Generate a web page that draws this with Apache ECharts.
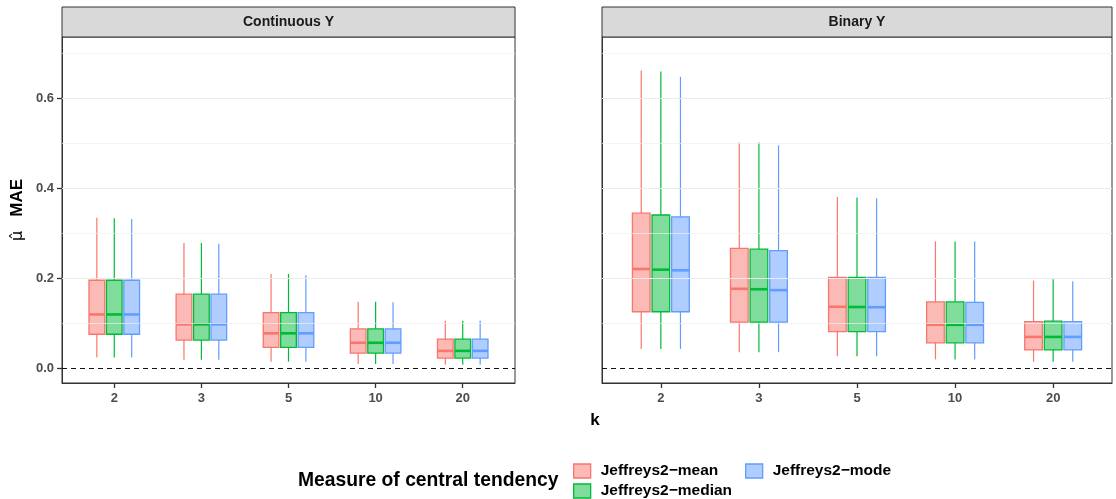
<!DOCTYPE html>
<html lang="en">
<head>
    <meta charset="UTF-8">
    <title>MAE by k</title>
    <script src="https://cdn.jsdelivr.net/npm/echarts/dist/echarts.min.js"></script>
    <style>
        body { margin: 0; padding: 0; background: #ffffff; }
        #chart { width: 1116px; height: 499px; }
    </style>
</head>
<body>
<div id="chart"></div>

<script>
// k values on the x axis
var kLabels = ['2', '3', '5', '10', '20'];
var facetNames = ['Continuous Y', 'Binary Y'];
var measureNames = ['Jeffreys2\u2212mean', 'Jeffreys2\u2212median', 'Jeffreys2\u2212mode'];

// box stats per k: [low whisker, q1, median, q3, high whisker]
var contMean = [[0.023, 0.075, 0.119, 0.195, 0.334], [0.018, 0.062, 0.097, 0.164, 0.278], [0.014, 0.046, 0.077, 0.123, 0.209], [0.009, 0.033, 0.056, 0.087, 0.147], [0.007, 0.022, 0.038, 0.064, 0.105]];
var contMedian = [[0.023, 0.075, 0.119, 0.195, 0.333], [0.018, 0.062, 0.097, 0.164, 0.278], [0.014, 0.046, 0.077, 0.123, 0.209], [0.009, 0.033, 0.056, 0.087, 0.147], [0.007, 0.022, 0.038, 0.064, 0.105]];
var contMode = [[0.023, 0.075, 0.119, 0.195, 0.331], [0.018, 0.062, 0.097, 0.164, 0.276], [0.014, 0.046, 0.077, 0.123, 0.206], [0.009, 0.033, 0.056, 0.087, 0.146], [0.007, 0.022, 0.038, 0.064, 0.105]];

var binMean = [[0.042, 0.125, 0.220, 0.344, 0.661], [0.035, 0.102, 0.176, 0.266, 0.501], [0.026, 0.081, 0.136, 0.2015, 0.380], [0.019, 0.056, 0.096, 0.147, 0.2815], [0.014, 0.040, 0.069, 0.103, 0.194]];
var binMedian = [[0.042, 0.125, 0.2185, 0.340, 0.659], [0.035, 0.102, 0.175, 0.264, 0.501], [0.026, 0.081, 0.1355, 0.2015, 0.379], [0.019, 0.056, 0.096, 0.147, 0.281], [0.014, 0.040, 0.069, 0.104, 0.197]];
var binMode = [[0.042, 0.125, 0.217, 0.336, 0.647], [0.035, 0.102, 0.173, 0.261, 0.495], [0.026, 0.081, 0.135, 0.2015, 0.377], [0.019, 0.056, 0.096, 0.146, 0.281], [0.014, 0.040, 0.069, 0.103, 0.193]];

var yTicks = [0, 0.2, 0.4, 0.6];
var majorGrid = [0.2, 0.4, 0.6];
var minorGrid = [0.1, 0.3, 0.5, 0.7];

var facetData = [[contMean, contMedian, contMode], [binMean, binMedian, binMode]];
var lineColors = ['#F8766D', '#00BA38', '#619CFF'];
var fillColors = ['rgba(248,118,109,0.5)', 'rgba(0,186,56,0.5)', 'rgba(97,156,255,0.5)'];
var dodge = [-0.2, 0, 0.2];
var boxWidth = 0.18;

var chart = echarts.init(document.getElementById('chart'));

function makeRender(m) {
    return function (params, api) {
        var x = api.value(0) + dodge[m];
        var lo = api.coord([x, api.value(1)]);
        var q1 = api.coord([x, api.value(2)]);
        var md = api.coord([x, api.value(3)]);
        var q3 = api.coord([x, api.value(4)]);
        var hi = api.coord([x, api.value(5)]);
        var half = api.size([boxWidth, 0])[0] / 2;
        var cx = lo[0];
        return {
            type: 'group',
            children: [
                { type: 'line', shape: { x1: cx, y1: hi[1], x2: cx, y2: q3[1] }, style: { stroke: lineColors[m], lineWidth: 1.2 } },
                { type: 'line', shape: { x1: cx, y1: q1[1], x2: cx, y2: lo[1] }, style: { stroke: lineColors[m], lineWidth: 1.2 } },
                { type: 'rect', shape: { x: cx - half, y: q3[1], width: half * 2, height: q1[1] - q3[1] }, style: { fill: fillColors[m], stroke: lineColors[m], lineWidth: 1.3 } },
                { type: 'line', shape: { x1: cx - half, y1: md[1], x2: cx + half, y2: md[1] }, style: { stroke: lineColors[m], lineWidth: 2.6 } }
            ]
        };
    };
}

var grids = [
    { left: 62, top: 37, width: 453, height: 346 },
    { left: 602, top: 37, width: 510, height: 346 }
];
var xAxes = [];
var yAxes = [];
var series = [];

grids.forEach(function (g, f) {
    g.show = true;
    g.borderColor = '#333333';
    g.borderWidth = 1;

    xAxes.push({
        type: 'value', gridIndex: f, min: 0.4, max: 5.6,
        axisLine: { show: true, onZero: false, lineStyle: { color: '#333333', width: 1 } },
        splitLine: { show: false },
        axisTick: { show: true, customValues: [1, 2, 3, 4, 5], length: 5, lineStyle: { color: '#333333', width: 1.3 } },
        axisLabel: {
            customValues: [1, 2, 3, 4, 5],
            formatter: function (v) { return kLabels[Math.round(v) - 1]; },
            color: '#4D4D4D', fontSize: 13, fontWeight: 'bold', fontFamily: 'Liberation Sans', margin: 9
        }
    });
    yAxes.push({
        type: 'value', gridIndex: f, min: -0.0334, max: 0.7356,
        axisLine: { show: true, onZero: false, lineStyle: { color: '#333333', width: 1 } },
        splitLine: { show: false },
        axisTick: { show: f === 0, customValues: yTicks, length: 5, lineStyle: { color: '#333333', width: 1.3 } },
        axisLabel: {
            show: f === 0,
            customValues: yTicks,
            formatter: function (v) { return v.toFixed(1); },
            color: '#4D4D4D', fontSize: 13, fontWeight: 'bold', fontFamily: 'Liberation Sans', margin: 8
        },
        name: f === 0 ? '{mu|\u03bc\u0302}   MAE' : '',
        nameLocation: 'middle', nameRotate: 90, nameGap: 36,
        nameTextStyle: {
            color: '#000000', fontSize: 17, fontWeight: 'bold', fontFamily: 'Liberation Sans',
            rich: { mu: { fontFamily: 'DejaVu Sans', fontSize: 16, fontWeight: 'normal', color: '#000000' } }
        }
    });

    // grid lines and the dashed zero line
    var lines = [];
    minorGrid.forEach(function (v) { lines.push({ yAxis: v, lineStyle: { color: '#EFEFEF', width: 0.7, type: 'solid' } }); });
    majorGrid.forEach(function (v) { lines.push({ yAxis: v, lineStyle: { color: '#EBEBEB', width: 1.2, type: 'solid' } }); });
    lines.push({ yAxis: 0, lineStyle: { color: '#111111', width: 1.2, type: [5, 4] } });
    series.push({
        type: 'line', xAxisIndex: f, yAxisIndex: f, data: [], z: 1,
        markLine: { silent: true, symbol: ['none', 'none'], label: { show: false }, animation: false, data: lines }
    });

    facetData[f].forEach(function (rows, m) {
        series.push({
            name: measureNames[m],
            type: 'custom', xAxisIndex: f, yAxisIndex: f, z: 2,
            itemStyle: { color: fillColors[m], borderColor: lineColors[m] },
            encode: { x: 0, y: [1, 2, 3, 4, 5] },
            renderItem: makeRender(m),
            data: rows.map(function (r, i) { return [i + 1].concat(r); })
        });
    });
});

function legendFor(m, left, top) {
    return {
        left: left, top: top, orient: 'horizontal', padding: 0,
        itemWidth: 17, itemHeight: 14,
        selectedMode: false,
        textStyle: { color: '#000000', fontSize: 15.5, fontWeight: 'bold', fontFamily: 'Liberation Sans', padding: [0, 0, 0, 5] },
        data: [{
            name: measureNames[m], icon: 'rect',
            itemStyle: { color: fillColors[m], borderColor: lineColors[m], borderWidth: 1.3 }
        }]
    };
}

var stripStyle = { fill: '#D9D9D9', stroke: '#333333', lineWidth: 1 };
var stripText = { fill: '#1A1A1A', fontSize: 14, fontWeight: 'bold', fontFamily: 'Liberation Sans', textAlign: 'center', textVerticalAlign: 'middle' };

var option = {
    animation: false,
    backgroundColor: '#ffffff',
    grid: grids,
    xAxis: xAxes,
    yAxis: yAxes,
    legend: [legendFor(0, 573, 463), legendFor(1, 573, 483), legendFor(2, 745, 463)],
    graphic: [
        { type: 'rect', shape: { x: 62, y: 7, width: 453, height: 30 }, style: stripStyle },
        { type: 'text', x: 288.5, y: 22, style: Object.assign({ text: facetNames[0] }, stripText) },
        { type: 'rect', shape: { x: 602, y: 7, width: 510, height: 30 }, style: stripStyle },
        { type: 'text', x: 857, y: 22, style: Object.assign({ text: facetNames[1] }, stripText) },
        { type: 'text', x: 595, y: 420, style: { text: 'k', fill: '#000000', fontSize: 17, fontWeight: 'bold', fontFamily: 'Liberation Sans', textAlign: 'center', textVerticalAlign: 'middle' } },
        { type: 'text', x: 298, y: 481, style: { text: 'Measure of central tendency', fill: '#000000', fontSize: 19.3, fontWeight: 'bold', fontFamily: 'Liberation Sans', textAlign: 'left', textVerticalAlign: 'middle' } }
    ],
    series: series
};

chart.setOption(option);
</script>
</body>
</html>
